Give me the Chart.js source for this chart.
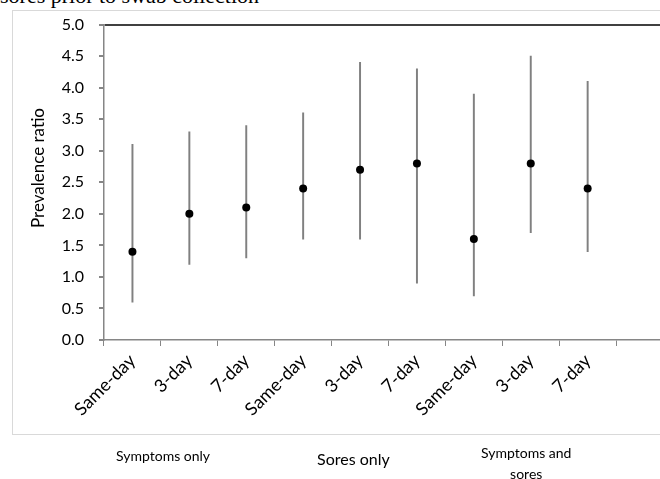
<!DOCTYPE html>
<html>
<head>
<meta charset="utf-8">
<script src="https://cdn.jsdelivr.net/npm/chart.js@4"></script>
<style>
  html, body { margin: 0; padding: 0; width: 660px; height: 479px; overflow: hidden; background: #fff; }
  #frame { position: absolute; left: 12px; top: 10px; width: 700px; height: 423px; border: 1px solid #d9d9d9; }
  #wrap { position: absolute; left: 0; top: 0; width: 700px; height: 479px; }
  .txt { position: absolute; font-family: Lato, "Open Sans", sans-serif; color: #000; white-space: nowrap; }
  #title { left: 0; top: -17px; font-family: "Liberation Serif", "DejaVu Serif", serif; font-size: 22px; }
</style>
</head>
<body>
<div id="title" class="txt">sores prior to swab collection</div>
<div id="frame"></div>
<div id="wrap"><canvas id="chart"></canvas></div>
<div class="txt" style="left:116px; top:447px; font-size:14px;">Symptoms only</div>
<div class="txt" style="left:317px; top:449px; font-size:16px;">Sores only</div>
<div class="txt" style="left:481px; top:442px; font-size:14px; text-align:center; line-height:21px;">Symptoms and<br>sores</div>
<script>
const labels = ['Same-day', '3-day', '7-day', 'Same-day', '3-day', '7-day', 'Same-day', '3-day', '7-day', ''];
const ratio = [1.4, 2.0, 2.1, 2.4, 2.7, 2.8, 1.6, 2.8, 2.4];
const lower = [0.6, 1.2, 1.3, 1.6, 1.6, 0.9, 0.7, 1.7, 1.4];
const upper = [3.1, 3.3, 3.4, 3.6, 4.4, 4.3, 3.9, 4.5, 4.1];
const yTitle = 'Prevalence ratio';

const ctx = document.getElementById('chart').getContext('2d');
ctx.canvas.width = 700;
ctx.canvas.height = 479;

const font = 'Lato, "Open Sans", sans-serif';

// axis title drawn by hand so it sits a bit above the middle, like the original
const yTitlePlugin = {
    id: 'yTitle',
    afterDraw(chart) {
        const c = chart.ctx;
        c.save();
        c.translate(39, 168);
        c.rotate(-Math.PI / 2);
        c.font = '17px ' + font;
        c.fillStyle = '#000';
        c.textAlign = 'center';
        c.textBaseline = 'middle';
        c.fillText(yTitle, 0, 0);
        c.restore();
    }
};

const chart = new Chart(ctx, {
    type: 'bar',
    data: {
        labels: labels,
        datasets: [
            {
                type: 'line',
                data: ratio,
                showLine: false,
                pointRadius: 4,
                pointHoverRadius: 4,
                pointBackgroundColor: '#000',
                pointBorderColor: '#000',
                pointBorderWidth: 0
            },
            {
                data: lower.map((l, i) => [l, upper[i]]),
                backgroundColor: '#808080',
                barThickness: 1.3
            }
        ]
    },
    options: {
        responsive: false,
        animation: false,
        layout: { padding: { left: 0, right: 27, top: 23, bottom: 0 } },
        plugins: { legend: { display: false }, tooltip: { enabled: false } },
        scales: {
            x: {
                offset: true,
                grid: { offset: true, drawOnChartArea: false, tickLength: 6, tickColor: '#868686' },
                border: { color: '#868686', width: 1.5 },
                ticks: { minRotation: 45, maxRotation: 45, padding: 4, color: '#000', font: { family: font, size: 18 } },
                afterFit: s => { s.height = 139; }
            },
            y: {
                min: 0,
                max: 5,
                ticks: {
                    stepSize: 0.5,
                    padding: 15,
                    color: '#000',
                    font: { family: font, size: 16 },
                    callback: v => v.toFixed(1)
                },
                grid: {
                    tickLength: 5,
                    tickColor: '#868686',
                    color: c => c.tick && c.tick.value === 5 ? '#404040' : 'transparent',
                    lineWidth: 2
                },
                border: { color: '#868686', width: 1.5 },
                afterFit: s => { s.width = 104; }
            }
        }
    },
    plugins: [yTitlePlugin]
});
</script>
</body>
</html>
